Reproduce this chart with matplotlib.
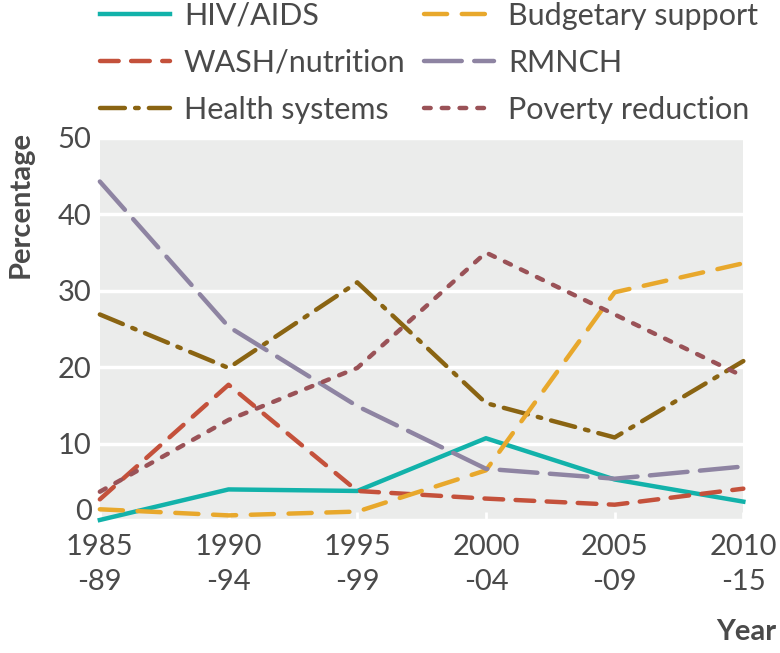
import numpy as np
import matplotlib.pyplot as plt
import matplotlib.transforms as mtransforms

# Share of funding by category
periods = ['1985\n-89', '1990\n-94', '1995\n-99', '2000\n-04', '2005\n-09', '2010\n-15']
hiv_aids = [0.0, 4.0, 3.8, 10.7, 5.3, 2.4]
wash_nutrition = [2.7, 17.7, 3.8, 2.8, 2.0, 4.1]
health_systems = [26.9, 19.9, 31.1, 15.3, 10.8, 20.8]
budgetary = [1.4, 0.6, 1.1, 6.5, 29.8, 33.6]
rmnch = [44.3, 25.3, 14.9, 6.7, 5.4, 7.0]
poverty = [3.7, 13.1, 19.9, 35.0, 26.9, 18.8]

plt.rcParams['font.family'] = ['Lato', 'DejaVu Sans']
txt = '#4a4a4a'
fs = 21

fig = plt.figure(figsize=(7.8, 6.53), dpi=100)
ax = fig.add_axes([0.128, 0.2037, 0.825, 0.585])
ax.set_facecolor('#ebeceb')
for s in ax.spines.values():
    s.set_visible(False)

x = np.arange(len(periods))
lw = 3.2
series = [
    (hiv_aids, 'HIV/AIDS', '#12b2aa', '-'),
    (wash_nutrition, 'WASH/nutrition', '#c4513b', (0, (4.2, 2.8))),
    (health_systems, 'Health systems', '#8a6412', (0, (5.6, 2.3, 0.8, 2.3))),
    (budgetary, 'Budgetary support', '#e8a82c', (0, (5.2, 3.3))),
    (rmnch, 'RMNCH', '#8e84a2', (0, (8.5, 2.8))),
    (poverty, 'Poverty reduction', '#9a5257', (0, (1.5, 2.5))),
]
handles = []
for vals, lab, col, ls in series:
    h, = ax.plot(x, vals, color=col, lw=lw, linestyle=ls, label=lab,
                 clip_on=False, dash_capstyle='round', zorder=3)
    handles.append(h)

ax.set_xlim(0, 5)
ax.set_ylim(0, 50)
ax.set_yticks([0, 10, 20, 30, 40, 50])
ax.set_xticks(x)
ax.set_xticklabels(periods, fontsize=fs, color=txt, linespacing=1.45)
ax.tick_params(axis='y', length=0, labelsize=fs, labelcolor=txt, pad=6)
ax.tick_params(axis='x', direction='in', length=6, width=2, color='white', pad=10)
ax.grid(axis='y', color='white', lw=2.5)
ax.set_axisbelow(True)

# lift the "0" label a little like the original
fig.canvas.draw()
lab0 = ax.get_yticklabels()[0]
lab0.set_transform(lab0.get_transform() +
                   mtransforms.ScaledTranslation(0, 10 / 100, fig.dpi_scale_trans))

fig.text(0.01, 0.80, 'Percentage', rotation=90, ha='left', va='top',
         fontsize=fs, fontweight='bold', color=txt)
fig.text(0.995, 0.032, 'Year', ha='right', va='center',
         fontsize=fs, fontweight='bold', color=txt)

fig.legend(handles=handles, loc='upper left', bbox_to_anchor=(0.128, 0.997),
           borderaxespad=0, borderpad=0,
           ncol=2, frameon=False, fontsize=22, handlelength=2.3,
           handletextpad=0.45, columnspacing=0.6, labelspacing=0.62,
           labelcolor=txt)

fig.savefig('out.png', dpi=100)
